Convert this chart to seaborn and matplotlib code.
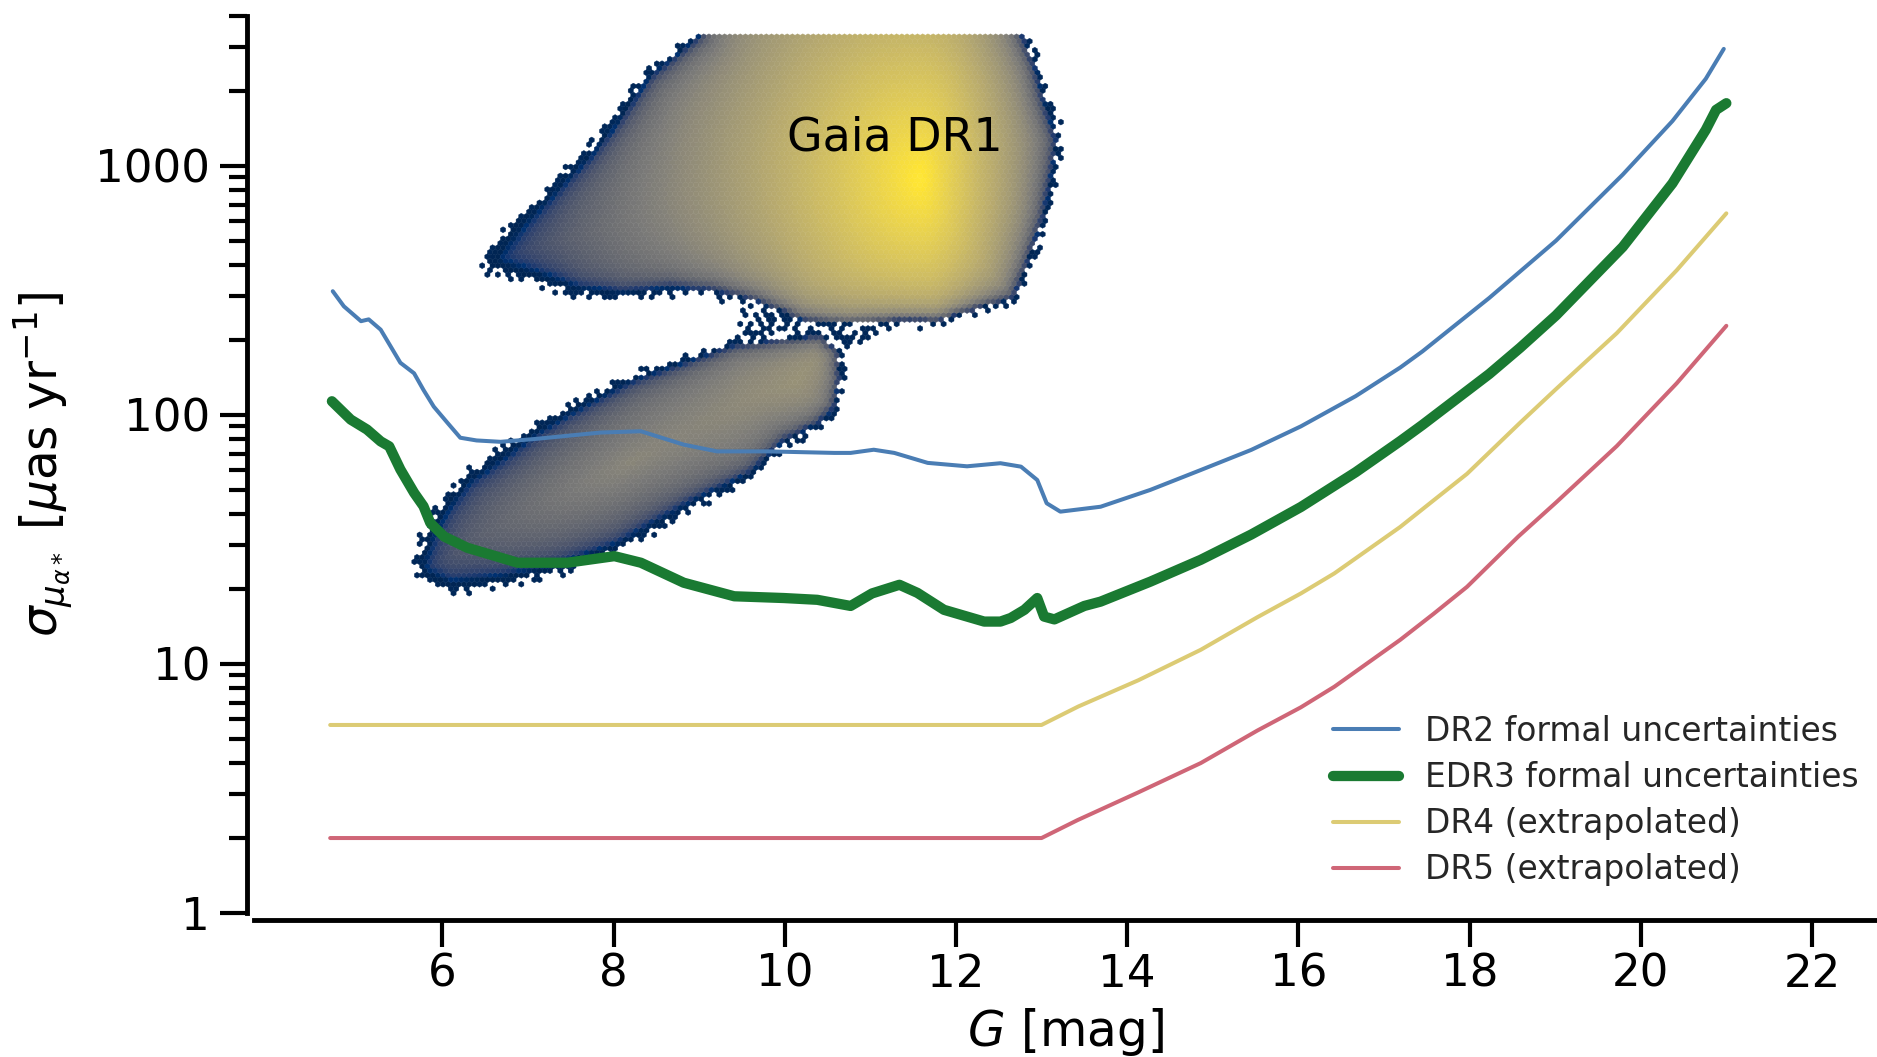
import numpy as np
import matplotlib
matplotlib.use("Agg")
import matplotlib.pyplot as plt
import seaborn as sns
from matplotlib.path import Path
from matplotlib.colors import LogNorm
from matplotlib.ticker import FixedLocator, LogLocator, NullFormatter, FixedFormatter

# ---------------------------------------------------------------- data
dr2_G = [4.72, 4.85, 5.05, 5.14, 5.28, 5.51, 5.67, 5.78, 5.90, 6.06, 6.21, 6.40, 6.68,
         7.07, 7.85, 8.32, 8.82, 9.21, 9.80, 10.58, 10.77, 11.04, 11.28, 11.67, 12.13,
         12.52, 12.76, 12.95, 13.06, 13.22, 13.69, 14.27, 14.86, 15.45, 16.03, 16.67,
         17.19, 17.45, 18.23, 19.01, 19.79, 20.37, 20.76, 20.97]
dr2_sigma = [314, 273, 238, 242, 220, 162, 147, 126, 108, 93, 81, 79, 78,
             80, 85, 86, 76, 71.4, 71.4, 70.4, 70.4, 72.5, 70.4, 64.2, 62.2,
             64, 62, 54.8, 44.2, 40.9, 42.8, 50, 60.1, 72.4, 90, 119,
             155, 180, 295, 501, 923, 1514, 2239, 2951]

edr3_G = [4.71, 4.93, 5.12, 5.28, 5.38, 5.51, 5.67, 5.78, 5.86, 6.02, 6.29, 6.88, 7.46,
          8.01, 8.32, 8.82, 9.41, 9.99, 10.38, 10.69, 10.77, 11.02, 11.34, 11.55, 11.86,
          12.33, 12.52, 12.64, 12.80, 12.95, 13.03, 13.15, 13.50, 13.69, 14.27, 14.86,
          15.45, 16.03, 16.67, 17.19, 17.45, 18.23, 18.59, 19.01, 19.79, 20.37, 20.76,
          20.88, 21.0]
edr3_sigma = [113.5, 95.8, 87.4, 78.3, 74.8, 60.4, 48.7, 43, 36.8, 32.5, 29.3, 25.5, 25.5,
              27.1, 25.5, 21.2, 18.7, 18.4, 18.1, 17.3, 17.1, 19.2, 20.8, 19.3, 16.5,
              14.8, 14.8, 15.3, 16.5, 18.4, 15.5, 15.1, 17.1, 17.8, 21.4, 26.2,
              33.1, 42.7, 58.9, 78.5, 91.2, 146, 186, 251, 473, 851, 1396,
              1679, 1786]

dr4_G = [4.69, 13.0, 13.43, 14.13, 14.86, 15.52, 16.03, 16.42, 17.19, 17.58, 17.97,
         18.59, 19.01, 19.72, 20.42, 21.0]
dr4_sigma = [5.69, 5.69, 6.75, 8.6, 11.4, 15.4, 19.2, 23.1, 35.5, 45.4, 58, 93, 127,
             213, 381, 645]

dr5_G = [4.69, 13.0, 13.42, 14.13, 14.86, 15.52, 16.03, 16.42, 17.19, 17.58, 17.97,
         18.57, 19.01, 19.72, 20.42, 21.0]
dr5_sigma = [2.0, 2.0, 2.36, 3.05, 4.0, 5.4, 6.7, 8.1, 12.5, 15.9, 20.4, 32.5, 44.5,
             75, 134, 228]

series_labels = ["DR2 formal uncertainties", "EDR3 formal uncertainties",
                 "DR4 (extrapolated)", "DR5 (extrapolated)"]

# Gaia DR1 cloud: outlines (G [mag], sigma [uas/yr])
dr1_upper_G = [9.01, 8.43, 8.07, 7.71, 7.23, 6.87, 6.62, 6.55, 7.08, 7.59, 8.11, 8.64,
               9.16, 9.68, 10.21, 10.73, 11.24, 11.78, 12.29, 12.66, 12.81, 13.02, 13.13,
               13.17, 13.02, 12.92, 12.77]
dr1_upper_sigma = [3300, 2296, 1541, 1092, 758, 575, 451, 395, 361, 320, 309, 327,
                   320, 290, 243, 235, 243, 243, 274, 299, 395, 628, 1000,
                   1276, 1838, 2506, 3300]
dr1_lower_G = [5.75, 6.10, 6.68, 7.27, 8.04, 8.82, 9.60, 9.99, 10.38, 10.57, 10.62,
               10.60, 10.40, 9.41, 8.83, 8.24, 7.46, 7.07, 6.68, 6.29, 6.01, 5.86, 5.75]
dr1_lower_sigma = [23.2, 20.5, 21.8, 23.9, 29.7, 43, 58.6, 79.6, 93, 108, 140,
                   180, 205, 189, 162, 139, 102, 85, 68, 55, 41.7, 33.6, 25.5]
dr1_neck_G = [8.9, 10.9, 11.4, 10.2, 9.0]
dr1_neck_sigma = [185, 190, 250, 280, 260]

# density of the two lobes (peak position, relative peak density, e-folding scales)
lobe_peak_G = [11.6, 8.2]
lobe_peak_sigma = [890, 64]
lobe_peak_density = [1.0, 0.04]
lobe_scale_G_left = [0.96, 1.5]
lobe_scale_G_right = [0.5, 1.5]
lobe_scale_logsigma = [0.4, 0.2]
lobe_axis_slope = [0.0, 0.15]     # dex per mag

# ---------------------------------------------------------------- style
sns.set_theme(style="ticks")
plt.rcParams["font.family"] = ["DejaVu Sans"]
plt.rcParams["mathtext.fontset"] = "dejavusans"

fig = plt.figure(figsize=(18.77, 10.57), dpi=100)
ax = fig.add_axes([254 / 1877, 144 / 1057, 1 - 254 / 1877, 897 / 1057])

PXG, PXL = 85.6, 249.0   # display pixels per mag / per dex (edge darkening)


def seg_dist(px, py, vx, vy, skip):
    d = np.full(px.shape, np.inf)
    for i in range(len(vx) - 1):
        if skip[i]:
            continue
        ax_, ay_, bx_, by_ = vx[i], vy[i], vx[i + 1], vy[i + 1]
        dx, dy = bx_ - ax_, by_ - ay_
        t = np.clip(((px - ax_) * dx + (py - ay_) * dy) / (dx * dx + dy * dy + 1e-12), 0, 1)
        d = np.minimum(d, np.hypot(px - (ax_ + t * dx), py - (ay_ + t * dy)))
    return d


def poly(Gs, Ss):
    g = np.asarray(Gs + [Gs[0]], float)
    l = np.log10(np.asarray(Ss + [Ss[0]], float))
    return g, l


def halton(n, base):
    i = np.arange(1, n + 1)
    f, r = np.ones(n), np.zeros(n)
    while np.any(i > 0):
        f = f / base
        r = r + f * (i % base)
        i = i // base
    return r


top_L = np.log10(max(dr1_upper_sigma))
polys = [poly(dr1_upper_G, dr1_upper_sigma), poly(dr1_lower_G, dr1_lower_sigma)]
neck = poly(dr1_neck_G, dr1_neck_sigma)


def density(G, L):
    out = np.zeros_like(G)
    for k in range(2):
        dG = G - lobe_peak_G[k]
        dL = (L - np.log10(lobe_peak_sigma[k])) - lobe_axis_slope[k] * dG
        hG = np.where(dG < 0, lobe_scale_G_left[k], lobe_scale_G_right[k])
        r = np.sqrt((dG / hG) ** 2 + (dL / lobe_scale_logsigma[k]) ** 2)
        out += lobe_peak_density[k] * np.exp(-r)
    return out


gg, ll = np.meshgrid(np.arange(5.45, 13.45, 0.02), np.arange(1.2, top_L, 0.006))
gg, ll = gg.ravel(), ll.ravel()
pts_G, pts_L, pts_C = [], [], []
inside_any = np.zeros(gg.shape, bool)
for (vg, vl) in polys:
    inside = Path(np.column_stack([vg, vl])).contains_points(np.column_stack([gg, ll]))
    inside &= ~inside_any
    inside_any |= inside
    skip = [(vl[i] >= top_L - 1e-6 and vl[i + 1] >= top_L - 1e-6) for i in range(len(vl) - 1)]
    g_in, l_in = gg[inside], ll[inside]
    d = seg_dist(g_in * PXG, l_in * PXL, vg * PXG, vl * PXL, skip)
    taper = 1 - np.exp(-d / 28.0)
    c = np.maximum(density(g_in, l_in) * taper, 1.1e-3)
    pts_G.append(g_in); pts_L.append(l_in); pts_C.append(c)

# sparse scatter of isolated hexes around the cloud and in the neck (quasi-uniform)
nq = 9000
qg = 5.3 + 8.3 * halton(nq, 2)
ql = 1.15 + (top_L - 0.01 - 1.15) * halton(nq, 3)
dmin = np.full(nq, np.inf)
in_cloud = np.zeros(nq, bool)
for (vg, vl) in polys:
    in_cloud |= Path(np.column_stack([vg, vl])).contains_points(np.column_stack([qg, ql]))
    dmin = np.minimum(dmin, seg_dist(qg * PXG, ql * PXL, vg * PXG, vl * PXL,
                                     [False] * (len(vg) - 1)))
in_neck = Path(np.column_stack(neck)).contains_points(np.column_stack([qg, ql]))
fringe = (~in_cloud) & ((dmin < 8) | (in_neck & (np.arange(nq) % 4 == 0)))
pts_G.append(qg[fringe]); pts_L.append(ql[fringe]); pts_C.append(np.full(fringe.sum(), 1.2e-3))

G_all = np.concatenate(pts_G)
S_all = 10 ** np.concatenate(pts_L)
C_all = np.concatenate(pts_C)

ax.hexbin(G_all, S_all, C=C_all, reduce_C_function=np.mean, gridsize=(133, 65),
          yscale="log", extent=(5.4, 13.5, np.log10(15), top_L),
          cmap="cividis", norm=LogNorm(1e-3, 1.0), linewidths=0.3, edgecolors="face",
          zorder=1)

# ---------------------------------------------------------------- lines
sns.lineplot(x=dr2_G, y=dr2_sigma, ax=ax, color="#4a7db4", lw=2.9, sort=False,
             estimator=None, label=series_labels[0], zorder=3)
sns.lineplot(x=edr3_G, y=edr3_sigma, ax=ax, color="#1a7a32", lw=7.4, sort=False,
             estimator=None, label=series_labels[1], zorder=3)
sns.lineplot(x=dr4_G, y=dr4_sigma, ax=ax, color="#dccb74", lw=2.9, sort=False,
             estimator=None, label=series_labels[2], zorder=3)
sns.lineplot(x=dr5_G, y=dr5_sigma, ax=ax, color="#cf6677", lw=2.9, sort=False,
             estimator=None, label=series_labels[3], zorder=3)

ax.text(10.03, 1290, "Gaia DR1", fontsize=33, ha="left", va="center", color="black",
        zorder=4)

# ---------------------------------------------------------------- axes
ax.set_yscale("log")
ax.set_xlim(3.80, 22.76)
ax.set_ylim(1, 4000)
ax.xaxis.set_major_locator(FixedLocator([6, 8, 10, 12, 14, 16, 18, 20, 22]))
ax.yaxis.set_major_locator(FixedLocator([1, 10, 100, 1000]))
ax.yaxis.set_major_formatter(FixedFormatter(["1", "10", "100", "1000"]))
ax.yaxis.set_minor_locator(LogLocator(base=10, subs=np.arange(2, 10), numticks=20))
ax.yaxis.set_minor_formatter(NullFormatter())
ax.tick_params(axis="both", which="major", length=19.5, width=3.0, labelsize=32.5,
               color="black", labelcolor="black")
ax.tick_params(axis="x", which="major", pad=4)
ax.tick_params(axis="y", which="major", pad=7)
ax.tick_params(axis="y", which="minor", length=13, width=3.0, color="black")
ax.tick_params(axis="x", which="minor", length=0)

sns.despine(ax=ax, offset=5)
for s in ("left", "bottom"):
    ax.spines[s].set_linewidth(3.5)
    ax.spines[s].set_color("black")

ax.set_xlabel("$G$ [mag]", fontsize=35, color="black")
ax.set_ylabel(r"$\sigma_{\mu_{\alpha*}}$ [$\mu$as yr$^{-1}$]", fontsize=35, color="black")
ax.xaxis.set_label_coords(0.5, -0.104)
ax.yaxis.set_label_coords(-0.110, 0.5)

ax.legend(loc="lower right", bbox_to_anchor=(0.997, 0.015), frameon=False, fontsize=23.7,
          handlelength=2.0, labelspacing=0.4, borderaxespad=0, borderpad=0.4,
          handletextpad=0.8)

fig.savefig("out.png", dpi=100, facecolor="white")
